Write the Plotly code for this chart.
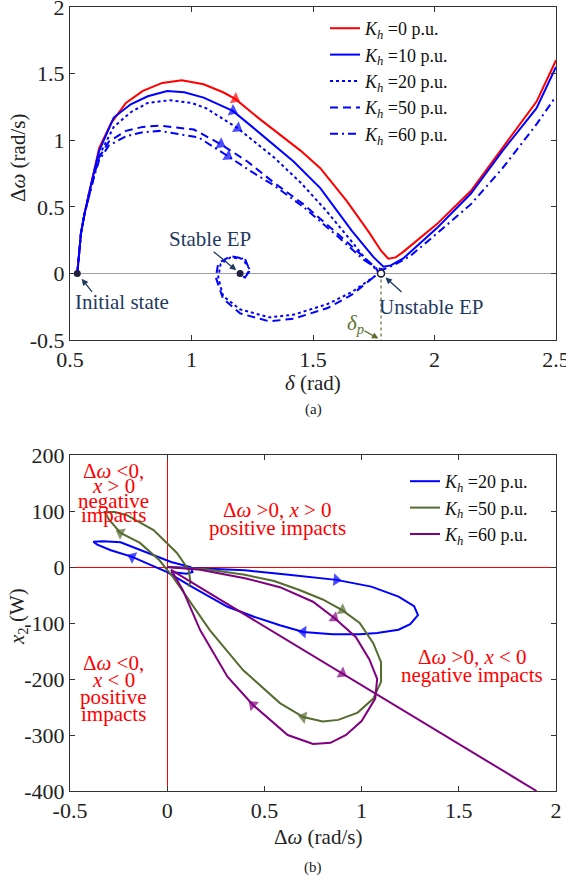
import plotly.graph_objects as go

# ---------------- (a) delta - domega trajectories ----------------
k0_d = [0.53, 0.535, 0.545, 0.56, 0.58, 0.60, 0.62, 0.67, 0.73, 0.80, 0.88, 0.96, 1.05, 1.13, 1.18, 1.28, 1.36, 1.45,
        1.53, 1.64, 1.73, 1.78, 1.81, 1.84, 1.87, 2.01, 2.15, 2.28, 2.42, 2.5]
k0_w = [0.0, 0.12, 0.30, 0.45, 0.62, 0.78, 0.94, 1.13, 1.28, 1.37, 1.43, 1.45, 1.42, 1.36, 1.31, 1.16, 1.05, 0.92,
        0.79, 0.54, 0.31, 0.17, 0.11, 0.12, 0.16, 0.37, 0.62, 0.94, 1.29, 1.60]
k10_d = [0.53, 0.535, 0.545, 0.56, 0.58, 0.60, 0.62, 0.68, 0.75, 0.82, 0.90, 0.97, 1.05, 1.17, 1.25, 1.32, 1.42, 1.53,
         1.66, 1.75, 1.79, 1.82, 1.87, 2.01, 2.15, 2.28, 2.42, 2.5]
k10_w = [0.0, 0.12, 0.30, 0.45, 0.62, 0.77, 0.92, 1.17, 1.27, 1.33, 1.37, 1.36, 1.32, 1.22, 1.10, 0.99, 0.84, 0.64,
         0.32, 0.12, 0.05, 0.06, 0.11, 0.34, 0.60, 0.92, 1.24, 1.55]
k20_d = [0.53, 0.535, 0.545, 0.56, 0.58, 0.60, 0.63, 0.68, 0.75, 0.82, 0.91, 1.00, 1.06, 1.19, 1.34, 1.45, 1.55, 1.65,
         1.72, 1.76, 1.77, 1.755, 1.66, 1.56, 1.42, 1.32, 1.20, 1.13, 1.11, 1.12, 1.16, 1.21, 1.24, 1.22, 1.19, 1.20]
k20_w = [0.0, 0.12, 0.30, 0.45, 0.62, 0.76, 0.92, 1.10, 1.21, 1.28, 1.30, 1.28, 1.24, 1.09, 0.87, 0.68, 0.48, 0.26,
         0.10, 0.03, 0.0, -0.02, -0.14, -0.23, -0.31, -0.33, -0.27, -0.17, -0.03, 0.07, 0.12, 0.11, 0.03, -0.03, -0.01, 0.0]
k50_d = [0.53, 0.535, 0.545, 0.56, 0.58, 0.60, 0.62, 0.66, 0.73, 0.80, 0.87, 1.01, 1.12, 1.23, 1.34, 1.46, 1.60, 1.71,
         1.76, 1.77, 1.755, 1.66, 1.56, 1.42, 1.32, 1.20, 1.13, 1.10, 1.11, 1.16, 1.22, 1.24, 1.22, 1.20]
k50_w = [0.0, 0.12, 0.30, 0.45, 0.60, 0.74, 0.87, 0.99, 1.07, 1.10, 1.11, 1.08, 0.97, 0.84, 0.68, 0.52, 0.30, 0.12,
         0.04, 0.0, -0.02, -0.16, -0.26, -0.34, -0.36, -0.30, -0.19, -0.03, 0.075, 0.13, 0.11, 0.02, -0.03, 0.0]
k60_d = [0.53, 0.535, 0.545, 0.56, 0.58, 0.60, 0.62, 0.66, 0.73, 0.80, 0.87, 1.03, 1.15, 1.25, 1.34, 1.46, 1.60, 1.71,
         1.76, 1.79, 1.83, 1.90, 2.01, 2.15, 2.28, 2.42, 2.5]
k60_w = [0.0, 0.12, 0.30, 0.45, 0.60, 0.73, 0.85, 0.96, 1.03, 1.06, 1.07, 1.02, 0.88, 0.76, 0.66, 0.50, 0.28, 0.10,
         0.04, 0.03, 0.06, 0.13, 0.30, 0.52, 0.79, 1.12, 1.33]
arrow_idx_a = [14, 13, 13, 12, 12]  # arrow positions along each series

initial_state = (0.53, 0.0)
stable_ep = (1.20, 0.0)
unstable_ep = (1.78, 0.0)

labels_a = ["<i>K<sub>h</sub></i> =0 p.u.", "<i>K<sub>h</sub></i> =10 p.u.", "<i>K<sub>h</sub></i> =20 p.u.",
            "<i>K<sub>h</sub></i> =50 p.u.", "<i>K<sub>h</sub></i> =60 p.u."]

# ---------------- (b) domega - x2 trajectories ----------------
b20_w = [0.0, 0.17, 0.40, 0.60, 0.87, 1.05, 1.19, 1.27, 1.29, 1.25, 1.19, 1.08, 0.99, 0.85, 0.70, 0.58, 0.44, 0.31,
         0.13, 0.0, -0.10, -0.18, -0.29, -0.36, -0.38, -0.33, -0.24, -0.12, 0.02, 0.12, 0.13, 0.10, 0.02]
b20_x = [0, -2, -6, -13, -23, -35, -53, -70, -86, -102, -112, -118, -120, -120, -116, -104, -88, -71,
         -36, -9, 6, 18, 30, 40, 45, 46, 44, 28, 9, 0, -9, -12, -9]
b50_w = [0.0, 0.20, 0.40, 0.55, 0.68, 0.80, 0.90, 0.99, 1.06, 1.10, 1.10, 1.06, 0.98, 0.88, 0.80, 0.70, 0.58, 0.39,
         0.22, 0.10, 0.03, -0.04, -0.14, -0.24, -0.30, -0.32, -0.27, -0.21, -0.07, 0.05, 0.11, 0.12, 0.11]
b50_x = [0, -4, -14, -25, -41, -58, -77, -100, -136, -170, -205, -235, -260, -273, -276, -268, -243, -184,
         -113, -54, -18, 12, 43, 61, 85, 98, 98, 93, 66, 25, -5, -27, -35]
b60_w = [0.0, 0.17, 0.40, 0.58, 0.75, 0.86, 0.97, 1.04, 1.08, 1.07, 1.00, 0.92, 0.84, 0.75, 0.62, 0.50, 0.44, 0.31,
         0.17, 0.08, 0.04, 0.02, 0.30, 0.60, 0.90, 1.20, 1.50, 1.90]
b60_x = [0, -5, -20, -36, -62, -91, -125, -165, -200, -235, -275, -300, -314, -316, -300, -265, -246, -196,
         -113, -41, -18, -5, -64, -127, -190, -253, -316, -400]
arrow_idx_b = [[4, 14, 21], [6, 15, 23], [5, 16, 24]]
labels_b = ["<i>K<sub>h</sub></i> =20 p.u.", "<i>K<sub>h</sub></i> =50 p.u.", "<i>K<sub>h</sub></i> =60 p.u."]

FONT = "Liberation Serif, Times New Roman, serif"
NAVY = "#1F3A5F"
OLIVE = "#5E7030"
RED = "#FF0000"
BLUE = "#0000FF"
GREEN_B = "#556B2F"
PURPLE = "#800080"

# page geometry (body margin removed in post_script)
W, H = 566, 882
ML, MR, MT, MB = 70, 10, 7, 91
PW, PH = W - ML - MR, H - MT - MB


def px(wx):
    return (wx - ML) / PW


def py(wy):
    return (H - MB - wy) / PH


fig = go.Figure()


def arrow_trace(xs, ys, i, color, xa, ya):
    return go.Scatter(x=[xs[i - 1], xs[i]], y=[ys[i - 1], ys[i]], mode="markers", xaxis=xa, yaxis=ya,
                      marker=dict(symbol="triangle-up", angleref="previous", size=[0, 11], color=color,
                                  line=dict(width=0)),
                      showlegend=False, hoverinfo="skip")


series_a = [(k0_d, k0_w, RED, "solid"), (k10_d, k10_w, BLUE, "solid"), (k20_d, k20_w, BLUE, "3px,3px"),
            (k50_d, k50_w, BLUE, "8px,5px"), (k60_d, k60_w, BLUE, "8px,4px,2px,4px")]
for (xs, ys, col, dash), lab in zip(series_a, labels_a):
    fig.add_trace(go.Scatter(x=xs, y=ys, mode="lines", name=lab, line=dict(color=col, width=2, dash=dash),
                             xaxis="x", yaxis="y", legend="legend"))
for (xs, ys, col, dash), i in zip(series_a, arrow_idx_a):
    fig.add_trace(arrow_trace(xs, ys, i, col, "x", "y"))

# delta_p dotted line
fig.add_trace(go.Scatter(x=[unstable_ep[0], unstable_ep[0]], y=[unstable_ep[1], -0.5], mode="lines",
                         line=dict(color=OLIVE, width=1.2, dash="dot"), showlegend=False, hoverinfo="skip",
                         xaxis="x", yaxis="y"))
# equilibrium points
fig.add_trace(go.Scatter(x=[initial_state[0], stable_ep[0]], y=[initial_state[1], stable_ep[1]], mode="markers",
                         marker=dict(color="#20203F", size=7), showlegend=False, xaxis="x", yaxis="y"))
fig.add_trace(go.Scatter(x=[unstable_ep[0]], y=[unstable_ep[1]], mode="markers",
                         marker=dict(color="white", size=7, line=dict(color="#20203F", width=1.6)),
                         showlegend=False, xaxis="x", yaxis="y"))

series_b = [(b20_w, b20_x, BLUE), (b50_w, b50_x, GREEN_B), (b60_w, b60_x, PURPLE)]
for (xs, ys, col), lab in zip(series_b, labels_b):
    fig.add_trace(go.Scatter(x=xs, y=ys, mode="lines", name=lab, line=dict(color=col, width=2),
                             xaxis="x2", yaxis="y2", legend="legend2"))
for (xs, ys, col), idxs in zip(series_b, arrow_idx_b):
    for i in idxs:
        fig.add_trace(arrow_trace(xs, ys, i, col, "x2", "y2"))

axis_common = dict(showline=True, linecolor="#333333", linewidth=1, mirror="ticks", ticks="inside", ticklen=5,
                   tickcolor="#333333", showgrid=False, automargin=False, ticklabeloverflow="allow",
                   tickfont=dict(family=FONT, size=22, color="#222222"))

fig.update_layout(
    width=W, height=H,
    margin=dict(l=ML, r=MR, t=MT, b=MB, autoexpand=False),
    plot_bgcolor="white", paper_bgcolor="white",
    font=dict(family=FONT, size=20, color="#222222"),
    xaxis=dict(domain=[0, 1], range=[0.5, 2.5], anchor="y", tickvals=[0.5, 1, 1.5, 2, 2.5],
               ticktext=["0.5", "1", "1.5", "2", "2.5"], zeroline=False, **axis_common),
    yaxis=dict(domain=[py(340), 1], range=[-0.5, 2], anchor="x", tickvals=[-0.5, 0, 0.5, 1, 1.5, 2],
               ticktext=["-0.5", "0", "0.5", "1", "1.5", "2"], zeroline=True, zerolinecolor="#A0A0A0",
               zerolinewidth=1, **axis_common),
    xaxis2=dict(domain=[0, 1], range=[-0.5, 2], anchor="y2", tickvals=[-0.5, 0, 0.5, 1, 1.5, 2],
                ticktext=["-0.5", "0", "0.5", "1", "1.5", "2"], zeroline=True, zerolinecolor=RED,
                zerolinewidth=1, **axis_common),
    yaxis2=dict(domain=[0, py(455)], range=[-400, 200], anchor="x2",
                tickvals=[-400, -300, -200, -100, 0, 100, 200],
                ticktext=["-400", "-300", "-200", "-100", "0", "100", "200"], zeroline=True, zerolinecolor=RED,
                zerolinewidth=1, **axis_common),
    legend=dict(x=px(325), y=py(10), xanchor="left", yanchor="top", bgcolor="rgba(255,255,255,0)",
                font=dict(family=FONT, size=18, color="#111111"), itemwidth=30, tracegroupgap=0),
    legend2=dict(x=px(405), y=py(463), xanchor="left", yanchor="top", bgcolor="rgba(255,255,255,0)",
                 font=dict(family=FONT, size=18, color="#111111"), itemwidth=30, tracegroupgap=0),
)

ann = []


def ptext(text, wx, wy, size=21, color="#222222", angle=0):
    ann.append(dict(text=text, xref="paper", yref="paper", x=px(wx), y=py(wy), xanchor="center",
                    yanchor="middle", showarrow=False, textangle=angle,
                    font=dict(family=FONT, size=size, color=color)))


# axis titles and captions
ptext("<i>δ</i> (rad)", 313, 383)
ptext("(a)", 313, 409, size=15)
ptext("Δ<i>ω</i> (rad/s)", 18, 158, angle=-90)
ptext("Δ<i>ω</i> (rad/s)", 318, 837)
ptext("(b)", 313, 867, size=15)
ptext("<i>x</i><sub>2</sub> (W)", 18, 617, angle=-90)


# (a) labels with arrows
def label(pt, text, dx, dy, color):
    ann.append(dict(text=text, xref="x", yref="y", x=pt[0], y=pt[1], xshift=dx, yshift=dy, showarrow=False,
                    xanchor="center", yanchor="middle", font=dict(family=FONT, size=21, color=color)))


def pointer(pt, ax, ay, color, standoff):
    ann.append(dict(text="", xref="x", yref="y", x=pt[0], y=pt[1], ax=ax, ay=ay, showarrow=True, arrowhead=2,
                    arrowsize=1, arrowwidth=1.3, arrowcolor=color, standoff=standoff))


label(initial_state, "Initial state", 45, -29, NAVY)
pointer(initial_state, 16, 20, NAVY, 7)
label(stable_ep, "Stable EP", -30, 34, NAVY)
pointer(stable_ep, -28, -23, NAVY, 5)
label(unstable_ep, "Unstable EP", 50, -34, NAVY)
pointer(unstable_ep, 22, 20, NAVY, 6)
delta_p_pt = (unstable_ep[0], -0.5)
label(delta_p_pt, "<i>δ<sub>p</sub></i>", -26, 16, OLIVE)
pointer(delta_p_pt, -18, -10, OLIVE, 3)


# (b) region texts (each line placed separately to mimic tight spacing)
def region(lines, cx, ys):
    for t, y in zip(lines, ys):
        ptext(t, cx, y, size=21, color=RED)


region(["Δ<i>ω</i> &lt;0,", "<i>x</i> &gt; 0", "negative", "impacts"], 113, [471, 486, 501, 515])
region(["Δ<i>ω</i> &gt;0, <i>x</i> &gt; 0", "positive impacts"], 277, [510, 528])
region(["Δ<i>ω</i> &lt;0,", "<i>x</i> &lt; 0", "positive", "impacts"], 113, [663, 680, 697, 714])
region(["Δ<i>ω</i> &gt;0, <i>x</i> &lt; 0", "negative impacts"], 472, [657, 675])

fig.update_layout(annotations=ann)
fig.write_html("out.html", config={"displayModeBar": False},
               post_script="document.body.style.margin='0';document.body.style.overflow='hidden';")
